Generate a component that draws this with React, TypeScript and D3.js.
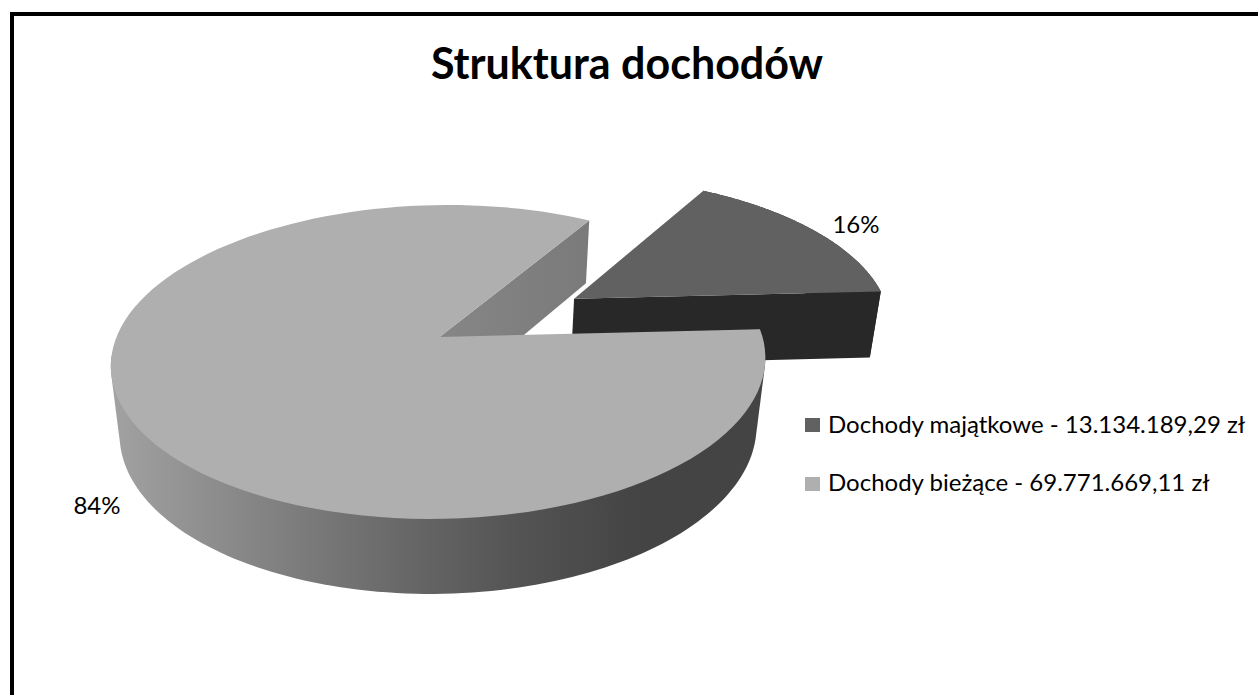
import * as d3 from "d3";

const title = "Struktura dochodów";
const categories = ["Dochody majątkowe", "Dochody bieżące"];
const amounts = [13134189.29, 69771669.11];
const amountLabels = ["13.134.189,29 zł", "69.771.669,11 zł"];
const topColors = ["#616161", "#afafaf"];

const width = 1258;
const height = 695;
const font = "Lato, Carlito, sans-serif";

// perspective model of the disc: u goes right, v goes to the viewer, z goes down
const apex = { x: 439.5, y: 337 };
const rx = 323;
const ry = 153;
const depth = 70;
const persp = 0.159;
const drop = 0.027;
const skew = -9;
const explode = 0.5;

function project(u: number, v: number, z: number): [number, number] {
  const w = 1 - persp * v + drop * z;
  return [apex.x + (rx * u) / w + skew * v, apex.y + (ry * v + depth * z) / w];
}

const slices = d3
  .pie<number>()
  .sort(null)
  .startAngle((30 * Math.PI) / 180)
  .endAngle((390 * Math.PI) / 180)(amounts);

const toU = (a: number) => Math.sin(a);
const toV = (a: number) => -Math.cos(a);

function offsetOf(i: number) {
  if (i !== 0) return { u: 0, v: 0 };
  const mid = (slices[0].startAngle + slices[0].endAngle) / 2;
  return { u: toU(mid) * explode, v: toV(mid) * explode };
}

function arcPoints(i: number, z: number, endAngle = slices[i].endAngle) {
  const { startAngle } = slices[i];
  const o = offsetOf(i);
  return d3
    .range(0, 121)
    .map((k) => startAngle + ((endAngle - startAngle) * k) / 120)
    .map((a) => project(o.u + toU(a), o.v + toV(a), z));
}

const line = d3.line();

function topFace(i: number) {
  const o = offsetOf(i);
  return line([project(o.u, o.v, 0), ...arcPoints(i, 0)]) + "Z";
}

function outerWall(i: number) {
  return line([...arcPoints(i, 0), ...arcPoints(i, 1).reverse()]) + "Z";
}

// the front of the big slice: a hull, so the silhouette keeps its tangent edges
function frontWall(i: number) {
  const stop = (263 * Math.PI) / 180;
  return line(d3.polygonHull([...arcPoints(i, 0, stop), ...arcPoints(i, 1, stop)])!) + "Z";
}

function cutWall(i: number, angle: number) {
  const o = offsetOf(i);
  const ou = o.u + toU(angle);
  const ov = o.v + toV(angle);
  return (
    line([
      project(o.u, o.v, 0),
      project(ou, ov, 0),
      project(ou, ov, 1),
      project(o.u, o.v, 1),
    ]) + "Z"
  );
}

const share = d3.format(".0%");
const total = d3.sum(amounts);

export default function App() {
  return (
    <svg
      width={width}
      height={height}
      viewBox={`0 0 ${width} ${height}`}
      style={{ position: "absolute", left: 0, top: 0, background: "#fff" }}
      fontFamily={font}
    >
      <defs>
        <linearGradient id="wallBig" gradientUnits="userSpaceOnUse" x1="110" x2="764" y1="0" y2="0">
          <stop offset="0" stopColor="#a2a2a2" />
          <stop offset="0.35" stopColor="#747474" />
          <stop offset="0.49" stopColor="#636363" />
          <stop offset="0.63" stopColor="#535353" />
          <stop offset="0.81" stopColor="#444444" />
          <stop offset="1" stopColor="#444444" />
        </linearGradient>
        <linearGradient id="wallCut" gradientUnits="userSpaceOnUse" x1="440" x2="590" y1="0" y2="0">
          <stop offset="0" stopColor="#868686" />
          <stop offset="1" stopColor="#7a7a7a" />
        </linearGradient>
      </defs>

      {/* left and top frame only, the rest runs off the picture */}
      <rect x={12} y={14} width={width + 20} height={height + 20} fill="none" stroke="#000" strokeWidth={4} />

      <text x={627} y={79} fontSize={43} fontWeight={700} textAnchor="middle" fill="#000">
        {title}
      </text>

      <path d={cutWall(1, slices[1].endAngle)} fill="url(#wallCut)" />

      <path d={outerWall(0)} fill="#282828" />
      <path d={cutWall(0, slices[0].endAngle)} fill="#282828" />
      <path d={topFace(0)} fill={topColors[0]} />

      <path d={frontWall(1)} fill="url(#wallBig)" />
      <path d={topFace(1)} fill={topColors[1]} />

      <text x={856} y={233} fontSize={24} textAnchor="middle" fill="#000">
        {share(amounts[0] / total)}
      </text>
      <text x={97} y={514} fontSize={24} textAnchor="middle" fill="#000">
        {share(amounts[1] / total)}
      </text>

      {categories.map((c, i) => (
        <g key={c}>
          <rect x={805} y={418 + i * 59} width={15} height={14} fill={topColors[i]} />
          <text x={828} y={433 + i * 58} fontSize={24} fill="#000">
            {`${c} - ${amountLabels[i]}`}
          </text>
        </g>
      ))}
    </svg>
  );
}
